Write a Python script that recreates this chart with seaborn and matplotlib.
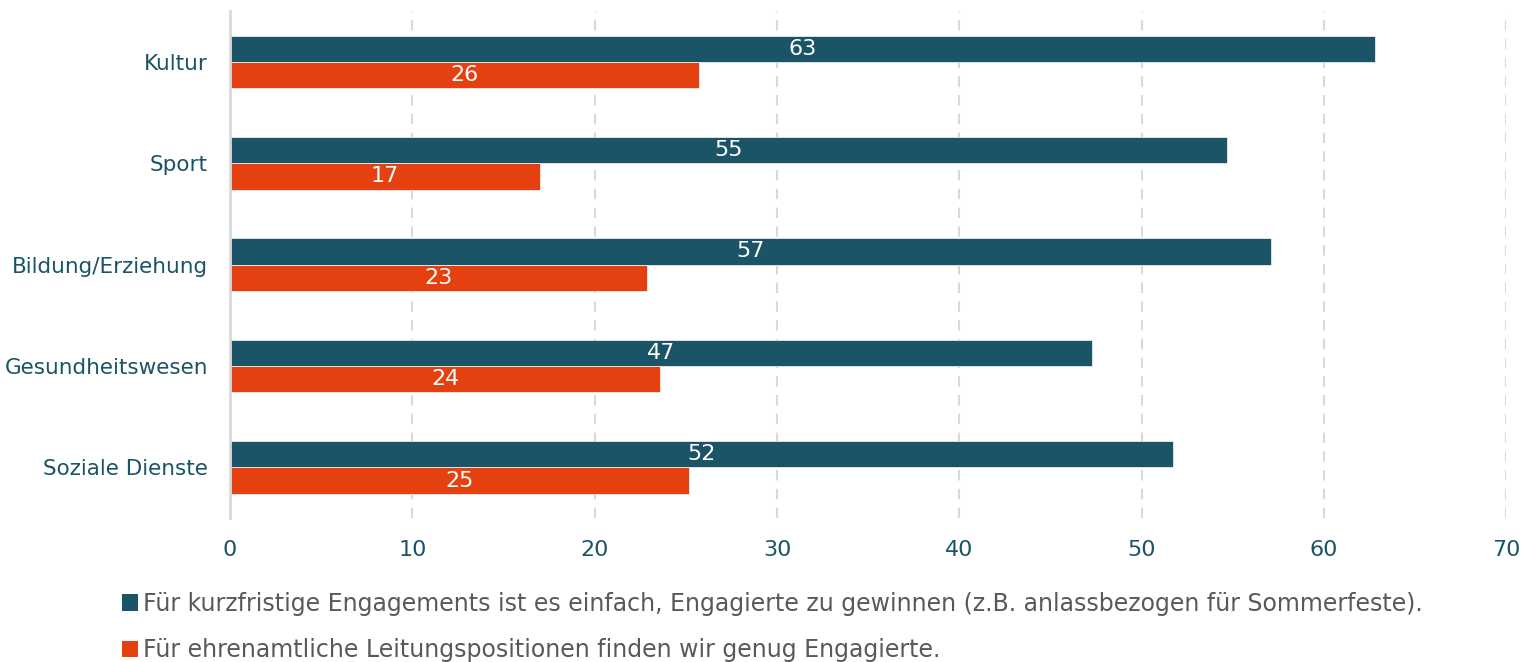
import pandas as pd
import matplotlib
matplotlib.use("Agg")
import matplotlib.pyplot as plt
import seaborn as sns
from matplotlib.patches import Patch

categories = ["Kultur", "Sport", "Bildung/Erziehung", "Gesundheitswesen", "Soziale Dienste"]
series_names = [
    "Für kurzfristige Engagements ist es einfach, Engagierte zu gewinnen (z.B. anlassbezogen für Sommerfeste).",
    "Für ehrenamtliche Leitungspositionen finden wir genug Engagierte.",
]
short_term = [62.8, 54.7, 57.1, 47.3, 51.7]
leadership = [25.7, 17.0, 22.9, 23.6, 25.2]
x_ticks = [0, 10, 20, 30, 40, 50, 60, 70]

colors = ["#1b5466", "#e5400f"]
tick_color = "#1b5466"
legend_color = "#595959"
grid_color = "#d9d9d9"

df = pd.DataFrame({
    "Bereich": categories * 2,
    "Wert": short_term + leadership,
    "Serie": [series_names[0]] * len(categories) + [series_names[1]] * len(categories),
})

sns.set_style("white")
plt.rcParams["font.family"] = ["DejaVu Sans"]

fig = plt.figure(figsize=(15.23, 6.62), dpi=100)
ax = fig.add_axes([0.151, 0.2175, 0.838, 0.7655])

sns.barplot(data=df, y="Bereich", x="Wert", hue="Serie", order=categories,
            hue_order=series_names, palette=colors, saturation=1, orient="h",
            width=0.52, edgecolor="#e8eef0", linewidth=0.6, ax=ax, legend=False)

for cont in ax.containers:
    ax.bar_label(cont, fmt="%.0f", label_type="center", color="white", fontsize=16)

ax.set_xlim(0, 70)
ax.set_ylim(4.5, -0.5)
ax.set_xticks(x_ticks)
ax.set_xlabel("")
ax.set_ylabel("")
ax.tick_params(axis="x", colors=tick_color, labelsize=16, length=0, pad=16)
ax.tick_params(axis="y", colors=tick_color, labelsize=15.5, length=0, pad=16)

ax.grid(axis="x", color=grid_color, linestyle=(0, (5, 4)), linewidth=1.5)
ax.set_axisbelow(True)
for side in ["top", "right", "bottom"]:
    ax.spines[side].set_visible(False)
ax.spines["left"].set_color(grid_color)
ax.spines["left"].set_linewidth(2)

handles = [Patch(facecolor=c, edgecolor="none") for c in colors]
leg = fig.legend(handles, series_names, loc="upper left",
                 bbox_to_anchor=(0.080, 0.106), frameon=False, fontsize=17,
                 handlelength=0.7, handleheight=0.7, handletextpad=0.2,
                 labelspacing=0.95, borderaxespad=0, borderpad=0)
for t in leg.get_texts():
    t.set_color(legend_color)

fig.savefig("out.png", dpi=100)
